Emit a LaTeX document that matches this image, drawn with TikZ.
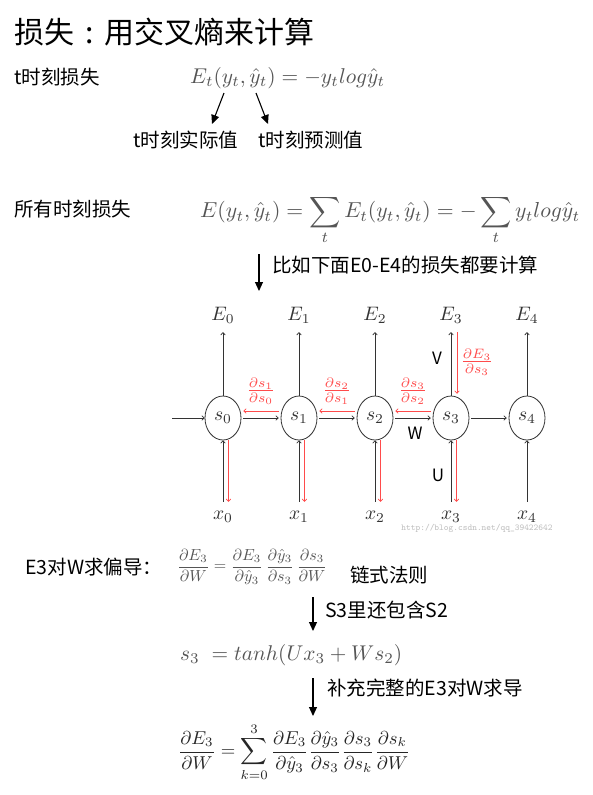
\documentclass[tikz,border=0pt]{standalone}
\usepackage{fontspec}
\usepackage{amsmath}
\usepackage{graphicx}
\newfontfamily\cjk{Noto Sans CJK SC}
\usetikzlibrary{arrows.meta,shapes.geometric}
\definecolor{fgray}{HTML}{555555}
\definecolor{dgray}{HTML}{333333}
\definecolor{lred}{HTML}{FF4B4B}
\newcommand\rnm[1]{\scalebox{1.95}{$#1$}}
\newcommand\rfr[1]{\scalebox{1.95}{$#1$}}
\tikzset{
  cn/.style={font=\cjk\fontsize{19.5}{22}\selectfont, inner sep=0pt, anchor=west, text=black},
  lt/.style={font=\cjk\fontsize{17}{20}\selectfont, inner sep=0pt, text=black},
  fm/.style={inner sep=0pt, anchor=west, text=fgray},
  flow/.style={draw=black, line width=1.1pt, -{Triangle[length=9pt,width=8pt]}},
  rnode/.style={ellipse, draw=dgray, line width=0.8pt, minimum width=36pt, minimum height=44pt, inner sep=0pt, text=dgray},
  elab/.style={inner sep=0pt, minimum height=34pt, text=dgray},
  xlab/.style={inner sep=0pt, minimum height=30pt, text=dgray},
  gar/.style={draw=dgray, line width=0.8pt, -{To[length=3pt,width=5pt]}},
  rar/.style={draw=lred, line width=0.8pt, -{To[length=3pt,width=5pt]}},
  rlab/.style={inner sep=0pt, text=lred},
}
\begin{document}
\begin{tikzpicture}[x=1pt,y=-1pt]
\useasboundingbox[fill=white] (0,0) rectangle (593,795);

% title
\node[cn, font=\cjk\fontsize{30}{33}\selectfont] (title) at (14,32) {损失\makebox[1em]{:}用交叉熵来计算};

% t loss
\node[cn] (tl) at (14,77) {t时刻损失};
\node[fm] (f1) at (190,78) {\resizebox{195pt}{!}{$E_t(y_t,\hat{y}_t) = -y_t log\hat{y}_t$}};
\coordinate (c1a) at (224,93);
\coordinate (c1b) at (212,124);
\coordinate (c2a) at (256,93);
\coordinate (c2b) at (268,124);
\draw[flow] (c1a) -- (c1b);
\draw[flow] (c2a) -- (c2b);
\node[cn] (real) at (133,140) {t时刻实际值};
\node[cn] (pred) at (258,140) {t时刻预测值};

% all loss
\node[cn] (al) at (14,209) {所有时刻损失};
\node[fm] (f2) at (200,220) {\resizebox{380pt}{!}{$\displaystyle E(y_t,\hat{y}_t) = \sum_t E_t(y_t,\hat{y}_t) = -\sum_t y_t log\hat{y}_t$}};
\coordinate (d1a) at (259,254);
\coordinate (d1b) at (259,291);
\draw[flow] (d1a) -- (d1b);
\node[cn] (note1) at (272,265) {比如下面E0-E4的损失都要计算};

% RNN diagram
\foreach \i/\x in {0/223,1/299,2/375,3/451,4/527}{
  \node[rnode] (s\i) at (\x,418) {\rnm{s_{\i}}};
  \node[elab] (E\i) at (\x,315) {\rnm{E_{\i}}};
  \node[xlab] (x\i) at (\x,517) {\rnm{x_{\i}}};
  \draw[gar] (s\i) -- (E\i);
  \draw[gar] (x\i) -- (s\i);
}
\coordinate (in) at (172,418);
\draw[gar] (in) -- (s0);
\foreach \a/\b in {0/1,1/2,2/3,3/4}{
  \draw[gar, shorten <=2pt, shorten >=2pt] (s\a) -- (s\b);
}
\foreach \a/\b in {0/1,1/2,2/3}{
  \draw[rar, shorten <=2pt, shorten >=2pt] ([yshift=7pt]s\b.west) -- ([yshift=7pt]s\a.east);
}
\foreach \i in {0,1,2,3}{
  \draw[rar] ([xshift=5.5pt]s\i.south) -- ([xshift=5.5pt]x\i.north);
}
\draw[rar, shorten >=2pt] ([xshift=6pt]E3.south) -- ([xshift=6pt]s3.north);
\node[rlab] (r1) at (261,391) {\rfr{\frac{\partial s_1}{\partial s_0}}};
\node[rlab] (r2) at (337,391) {\rfr{\frac{\partial s_2}{\partial s_1}}};
\node[rlab] (r3) at (413,391) {\rfr{\frac{\partial s_3}{\partial s_2}}};
\node[rlab] (r4) at (477,362) {\rfr{\frac{\partial E_3}{\partial s_3}}};
\node[lt] (V) at (437,358) {V};
\node[lt] (W) at (415,433) {W};
\node[lt] (U) at (438,475) {U};
\node[inner sep=0pt, text=black!25, font=\ttfamily\fontsize{9}{10}\selectfont] (wm) at (477,528) {http://blog.csdn.net/qq\_39422642};

% E3 wrt W
\node[cn] (e3w) at (25,567) {E3对W求偏导：};
\node[fm] (f3) at (177,567) {\resizebox{150pt}{!}{$\displaystyle \frac{\partial E_3}{\partial W} = \frac{\partial E_3}{\partial \hat{y}_3}\,\frac{\partial \hat{y}_3}{\partial s_3}\,\frac{\partial s_3}{\partial W}$}};
\node[cn] (chain) at (350,575) {链式法则};
\coordinate (d2a) at (313,597);
\coordinate (d2b) at (313,631);
\draw[flow] (d2a) -- (d2b);
\node[cn] (note2) at (325,610) {S3里还包含S2};
\node[fm] (f4) at (180,655) {\resizebox{222pt}{!}{$s_3 \;= tanh(Ux_3 + Ws_2)$}};
\coordinate (d3a) at (313,678);
\coordinate (d3b) at (313,716);
\draw[flow] (d3a) -- (d3b);
\node[cn] (note3) at (327,688) {补充完整的E3对W求导};
\node[fm, text=black!85] (f5) at (178,752) {\resizebox{232pt}{!}{$\displaystyle \frac{\partial E_3}{\partial W} = \sum_{k=0}^{3}\frac{\partial E_3}{\partial \hat{y}_3}\frac{\partial \hat{y}_3}{\partial s_3}\frac{\partial s_3}{\partial s_k}\frac{\partial s_k}{\partial W}$}};
\end{tikzpicture}
\end{document}
